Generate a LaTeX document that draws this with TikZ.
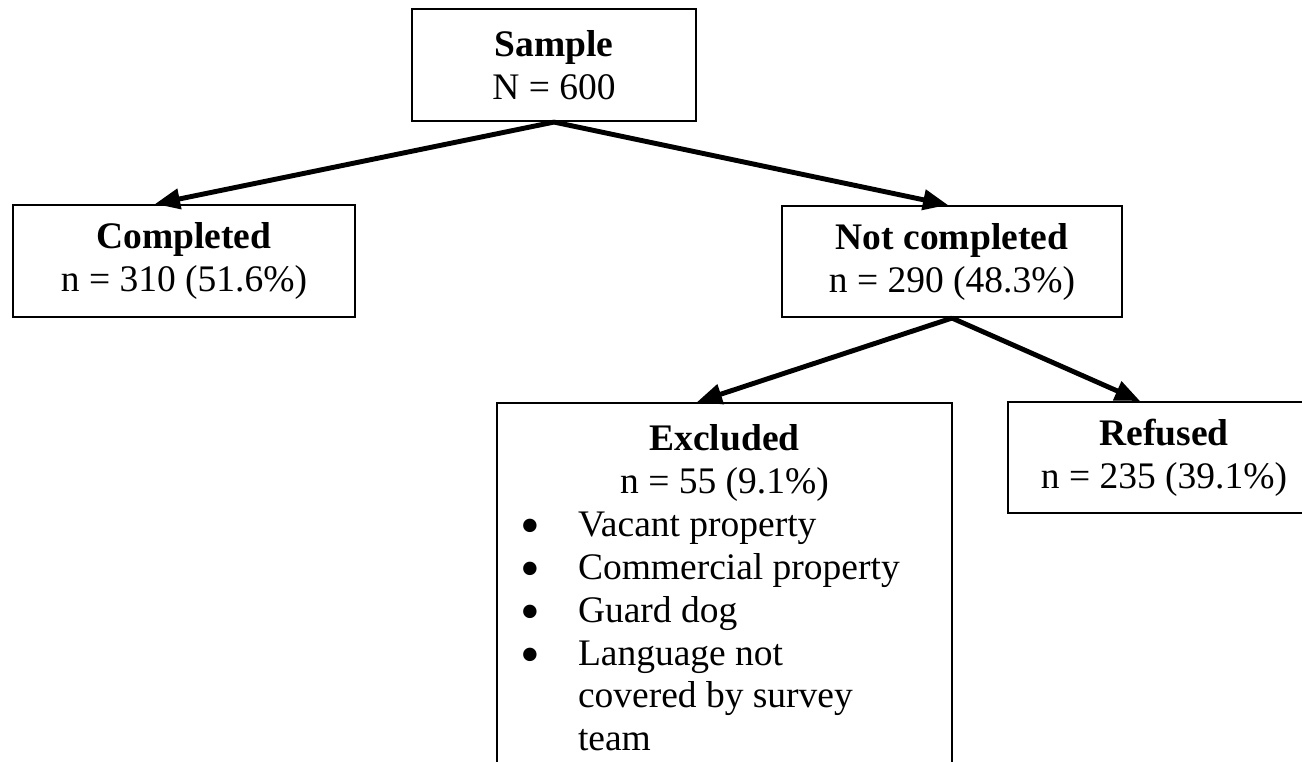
\documentclass[tikz,border=0pt]{standalone}
\usepackage{fontspec}
\setmainfont{Liberation Serif}
\usepackage{tikz}
\usetikzlibrary{positioning,arrows.meta}

\newcommand{\bulletline}[1]{\par\noindent
  \makebox[0.81cm][l]{\hspace{0.23cm}\raisebox{-0.08cm}[0pt][0pt]{\fontsize{16}{16}\selectfont\textbullet}}%
  \parbox[t]{3.7cm}{#1}}

\begin{document}
\begin{tikzpicture}[font=\fontsize{10.67}{12.23}\selectfont,
  flowbox/.style={draw, line width=0.6pt, align=center, inner sep=0pt},
  flowarrow/.style={line width=1.4pt, -{Triangle[length=0.25cm,width=0.2cm]}}]
\useasboundingbox (0,0) rectangle (13.02,-7.61);
\clip (0,0) rectangle (13.02,-7.61);
\node[flowbox, minimum width=2.84cm, minimum height=1.12cm] (sample) at (5.54,-0.65) {\textbf{Sample}\\ N = 600};
\node[flowbox, minimum width=3.42cm, minimum height=1.12cm] (completed) at (1.84,-2.61) {\textbf{Completed}\\ n = 310 (51.6\%)};
\node[flowbox, minimum width=3.40cm, minimum height=1.11cm] (notcompleted) at (9.52,-2.615) {\textbf{Not completed}\\ n = 290 (48.3\%)};
\node[flowbox, minimum width=3.12cm, minimum height=1.11cm] (refused) at (11.64,-4.575) {\textbf{Refused}\\ n = 235 (39.1\%)};
\node[draw, line width=0.6pt, anchor=north, text width=4.55cm, inner xsep=0pt, inner ysep=0.21cm] (excluded) at (7.245,-4.02) {%
  \spaceskip=0pt\xspaceskip=0pt
  \centerline{\textbf{Excluded}}
  \centerline{n = 55 (9.1\%)}
  \bulletline{Vacant property}
  \bulletline{Commercial property}
  \bulletline{Guard dog}
  \bulletline{Language not\\ covered by survey\\ team}
  \par\rule{0pt}{1cm}};
\draw[flowarrow] (sample.south) -- ([xshift=-0.29cm]completed.north);
\draw[flowarrow] (sample.south) -- ([xshift=-0.04cm]notcompleted.north);
\draw[flowarrow] (notcompleted.south) -- ([xshift=-0.275cm]excluded.north);
\draw[flowarrow] (notcompleted.south) -- ([xshift=-0.24cm]refused.north);
\end{tikzpicture}
\end{document}
